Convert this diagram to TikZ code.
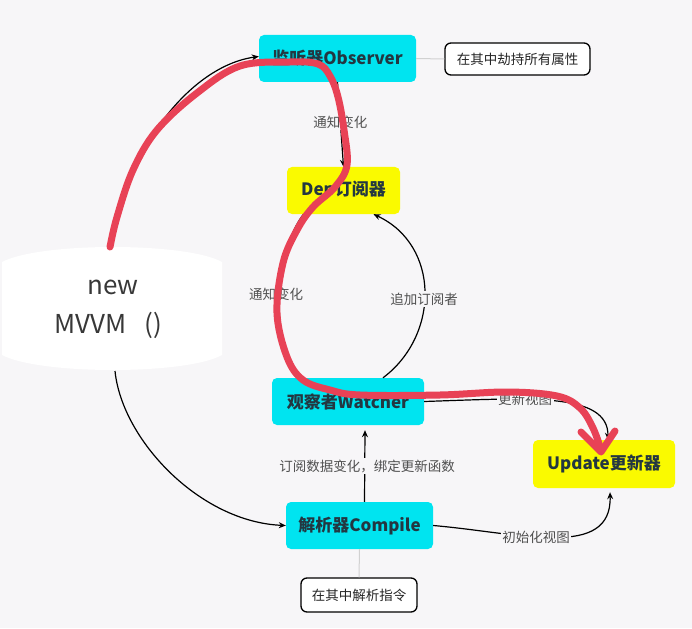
\documentclass[tikz,border=0pt]{standalone}
\usepackage{fontspec}
\setmainfont{Noto Sans CJK SC}
\usetikzlibrary{arrows.meta}
\definecolor{bgc}{RGB}{247,246,248}
\definecolor{cyanbox}{RGB}{0,228,240}
\definecolor{yelbox}{RGB}{250,250,0}
\definecolor{boxtxt}{RGB}{35,55,65}
\definecolor{lbltxt}{RGB}{80,80,80}
\definecolor{redpen}{RGB}{232,66,86}
\tikzset{
  cbox/.style={fill=cyanbox, rounded corners=5pt, text=boxtxt, font=\fontsize{17}{20}\selectfont\bfseries, inner sep=2pt},
  ybox/.style={fill=yelbox, rounded corners=5pt, text=boxtxt, font=\fontsize{17}{20}\selectfont\bfseries, inner sep=2pt},
  notebox/.style={draw=black, line width=1.3pt, rounded corners=6pt, fill=white, font=\fontsize{13.5}{16}\selectfont, text=black!85, inner sep=3pt},
  lbl/.style={fill=bgc, font=\fontsize{13.5}{16}\selectfont, text=lbltxt, inner sep=1.5pt},
  arr/.style={draw=black, line width=1.2pt, -{Stealth[length=7pt,width=6pt]}},
  thin/.style={draw=black!18, line width=1pt},
  redline/.style={draw=redpen, line width=7pt, line cap=round, line join=round},
  mvtxt/.style={font=\fontsize{26}{30}\selectfont, text=black!78},
}
\begin{document}
\begin{tikzpicture}[x=1pt,y=-1pt]
\useasboundingbox (0,0) rectangle (692,628);
\fill[bgc] (0,0) rectangle (692,628);
% new MVVM shape
\fill[white] (2,262) .. controls (40,242) and (186,242) .. (222,262) -- (222,355) .. controls (186,375) and (40,375) .. (2,355) -- cycle;
\node[mvtxt] (mvnew) at (113,287) {new};
\node[mvtxt] (mvvm) at (108,325) {MVVM\hspace{18pt}()};
\coordinate (mvtop) at (112,247);
\coordinate (mvbot) at (115,371);
% boxes
\node[cbox, minimum width=157pt, minimum height=47pt] (obs) at (337.5,58.5) {监听器Observer};
\node[notebox, minimum width=145pt, minimum height=32pt] (n1) at (517.5,59) {在其中劫持所有属性};
\node[ybox, minimum width=113pt, minimum height=47pt] (dep) at (343.5,190.5) {Dep订阅器};
\node[cbox, minimum width=152pt, minimum height=47pt] (wat) at (348,401.5) {观察者Watcher};
\node[ybox, minimum width=142pt, minimum height=48pt] (upd) at (604,464) {Update更新器};
\node[cbox, minimum width=147pt, minimum height=47pt] (cmp) at (359.5,525.5) {解析器Compile};
\node[notebox, minimum width=116pt, minimum height=34pt] (n2) at (359,595) {在其中解析指令};
% gray links
\draw[thin] (obs.east) -- (n1.west);
\draw[thin] (cmp.south) -- (n2.north);
% connectors
\draw[arr] (mvtop) .. controls (125,150) and (190,66) .. ([yshift=2pt]obs.west);
\draw[arr] (obs.south) -- node[lbl, pos=0.47] {通知变化} (dep.north);
\draw[arr] ([xshift=-40pt]dep.south) .. controls (275,250) and (270,345) .. ([xshift=-48pt]wat.north);
\node[lbl] (l3) at (276,294) {通知变化};
\draw[arr] ([xshift=35pt]wat.north) .. controls (440,335) and (440,245) .. ([xshift=30pt]dep.south);
\node[lbl] (l4) at (424,299) {追加订阅者};
\draw[arr] (wat.east) .. controls (530,398) and (608,392) .. ([xshift=4pt]upd.north);
\node[lbl] (l5) at (525,399) {更新视图};
\draw[arr] (mvbot) .. controls (122,440) and (200,522) .. (cmp.west);
\draw[arr] ([xshift=5pt]cmp.north) -- ([xshift=17pt,yshift=-5pt]wat.south);
\node[lbl] (l7) at (367,466) {订阅数据变化，绑定更新函数};
\draw[arr] (cmp.east) .. controls (520,533) and (612,560) .. ([xshift=6pt,yshift=-4pt]upd.south);
\node[lbl] (l8) at (536,537) {初始化视图};
% red annotation
\draw[redline] plot[smooth, tension=0.6] coordinates {(110,247) (117,217) (133,170) (157,130) (197,93) (240,66) (290,62) (318,64) (330,76) (338,97) (344,130) (347,165) (335,187) (313,207) (297,230) (283,263) (277,313) (287,357) (303,380) (330,390) (360,395) (440,395) (507,392) (557,396) (580,408) (593,428) (601,450)};
\draw[redline] (581,432) -- (601,452) -- (615,431);
\end{tikzpicture}
\end{document}
